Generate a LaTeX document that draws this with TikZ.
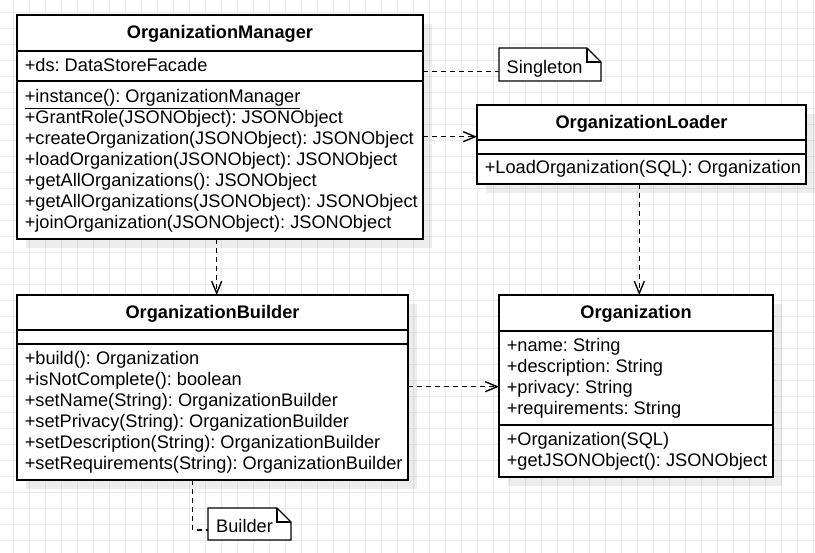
\documentclass[tikz,border=0pt]{standalone}
\usepackage{fontspec}
\setmainfont{Liberation Sans}
\usetikzlibrary{arrows.meta,shadows}
\newcommand{\ls}{\rule{0pt}{15pt}}
\frenchspacing
\tikzset{
  gridline/.style={draw=black!8, line width=1pt},
  frame/.style={draw=black, line width=1.4pt, fill=white, anchor=north west, inner sep=0pt, outer sep=0pt,
    drop shadow={shadow xshift=9pt, shadow yshift=-9pt, opacity=0.07, fill=black}},
  comp/.style={draw=black, line width=1.4pt, anchor=north west, inner sep=0pt, outer sep=0pt},
  hdr/.style={font=\bfseries\fontsize{18.2}{21}\selectfont, text height=12pt, text depth=0pt},
  txt/.style={anchor=north west, inner sep=0pt, outer sep=0pt, align=left, font=\fontsize{18.2}{21}\selectfont},
  notetxt/.style={anchor=base west, inner sep=0pt, font=\fontsize{18.2}{21}\selectfont},
  noteshape/.style={anchor=north west, inner sep=0pt, outer sep=0pt},
  notepath/.style={draw=black, line width=1.4pt, fill=white, line join=miter},
  dep/.style={line width=1.4pt, dash pattern=on 5pt off 4pt, -{Straight Barb[length=12pt,width=10pt]}},
  link/.style={line width=1.4pt, dash pattern=on 5pt off 4pt},
}
\begin{document}
\begin{tikzpicture}[x=1pt,y=-1pt]
\useasboundingbox[fill=white] (0,0) rectangle (815,553);
% grid
\foreach \i in {0,...,50} {\draw[gridline] (13.3+16*\i,0) -- (13.3+16*\i,553);}
\foreach \j in {0,...,33} {\draw[gridline] (0,12.5+16*\j) -- (815,12.5+16*\j);}

% OrganizationManager
\node[frame, minimum width=406pt, minimum height=224pt] (om) at (17,15) {};
\node[comp, hdr, minimum width=406pt, minimum height=36pt] (omH) at (om.north west) {OrganizationManager};
\node[comp, minimum width=406pt, minimum height=30pt] (omA) at (omH.south west) {};
\node[comp, minimum width=406pt, minimum height=158pt] (omM) at (omA.south west) {};
\node[txt] (omAt) at ([shift={(7.8,6)}]omA.north west) {\ls+ds: DataStoreFacade};
\node[txt] (omMt) at ([shift={(7.8,7)}]omM.north west) {\ls\underline{+instance(): OrganizationManager}\\
+GrantRole(JSONObject): JSONObject\\
+createOrganization(JSONObject): JSONObject\\
+loadOrganization(JSONObject): JSONObject\\
+getAllOrganizations(): JSONObject\\
+getAllOrganizations(JSONObject): JSONObject\\
+joinOrganization(JSONObject): JSONObject};

% OrganizationLoader
\node[frame, minimum width=329pt, minimum height=79pt] (ol) at (477,105) {};
\node[comp, hdr, minimum width=329pt, minimum height=35pt] (olH) at (ol.north west) {OrganizationLoader};
\node[comp, minimum width=329pt, minimum height=14pt] (olA) at (olH.south west) {};
\node[comp, minimum width=329pt, minimum height=30pt] (olM) at (olA.south west) {};
\node[txt] (olMt) at ([shift={(7.8,5)}]olM.north west) {\ls+LoadOrganization(SQL): Organization};

% OrganizationBuilder
\node[frame, minimum width=391pt, minimum height=185pt] (ob) at (17,295) {};
\node[comp, hdr, minimum width=391pt, minimum height=35pt] (obH) at (ob.north west) {OrganizationBuilder};
\node[comp, minimum width=391pt, minimum height=14pt] (obA) at (obH.south west) {};
\node[comp, minimum width=391pt, minimum height=136pt] (obM) at (obA.south west) {};
\node[txt] (obMt) at ([shift={(7.8,6)}]obM.north west) {\ls+build(): Organization\\
+isNotComplete(): boolean\\
+setName(String): OrganizationBuilder\\
+setPrivacy(String): OrganizationBuilder\\
+setDescription(String): OrganizationBuilder\\
+setRequirements(String): OrganizationBuilder};

% Organization
\node[frame, minimum width=274pt, minimum height=182pt] (org) at (499,295) {};
\node[comp, hdr, minimum width=274pt, minimum height=36pt] (orgH) at (org.north west) {Organization};
\node[comp, minimum width=274pt, minimum height=94pt] (orgA) at (orgH.south west) {};
\node[comp, minimum width=274pt, minimum height=52pt] (orgM) at (orgA.south west) {};
\node[txt] (orgAt) at ([shift={(7.8,5.5)}]orgA.north west) {\ls+name: String\\
+description: String\\
+privacy: String\\
+requirements: String};
\node[txt] (orgMt) at ([shift={(7.8,6)}]orgM.north west) {\ls+Organization(SQL)\\
+getJSONObject(): JSONObject};

% Notes
\node[noteshape, minimum width=102pt, minimum height=33pt] (sing) at (499,48) {};
\draw[notepath] (sing.north west) -- ([shift={(-14,0)}]sing.north east) -- ([shift={(0,14)}]sing.north east) -- (sing.south east) -- (sing.south west) -- cycle;
\draw[line width=1.4pt] ([shift={(-14,0)}]sing.north east) -- ([shift={(-14,14)}]sing.north east) -- ([shift={(0,14)}]sing.north east);
\node[notetxt] (singT) at ([shift={(7.5,25.3)}]sing.north west) {Singleton};

\node[noteshape, minimum width=83pt, minimum height=32pt] (bld) at (208,508) {};
\draw[notepath] (bld.north west) -- ([shift={(-14,0)}]bld.north east) -- ([shift={(0,14)}]bld.north east) -- (bld.south east) -- (bld.south west) -- cycle;
\draw[line width=1.4pt] ([shift={(-14,0)}]bld.north east) -- ([shift={(-14,14)}]bld.north east) -- ([shift={(0,14)}]bld.north east);
\node[notetxt] (bldT) at ([shift={(8,24.3)}]bld.north west) {Builder};

% connectors
\coordinate (ySing) at (0,71.3);
\coordinate (yLoad) at (0,136.7);
\coordinate (xBld) at (216.7,0);
\coordinate (xOrg) at (639.3,0);
\coordinate (yOrg) at (0,386.7);
\coordinate (xNote) at (192.7,0);
\coordinate (yNote) at (0,530);

\draw[link] (om.east |- ySing) -- (sing.west |- ySing);
\draw[dep] (om.east |- yLoad) -- (ol.west |- yLoad);
\draw[dep] (om.south -| xBld) -- (ob.north -| xBld);
\draw[dep] (ol.south -| xOrg) -- (org.north -| xOrg);
\draw[dep] (ob.east |- yOrg) -- (org.west |- yOrg);
\draw[link] (ob.south -| xNote) |- (bld.west |- yNote);
\end{tikzpicture}
\end{document}
